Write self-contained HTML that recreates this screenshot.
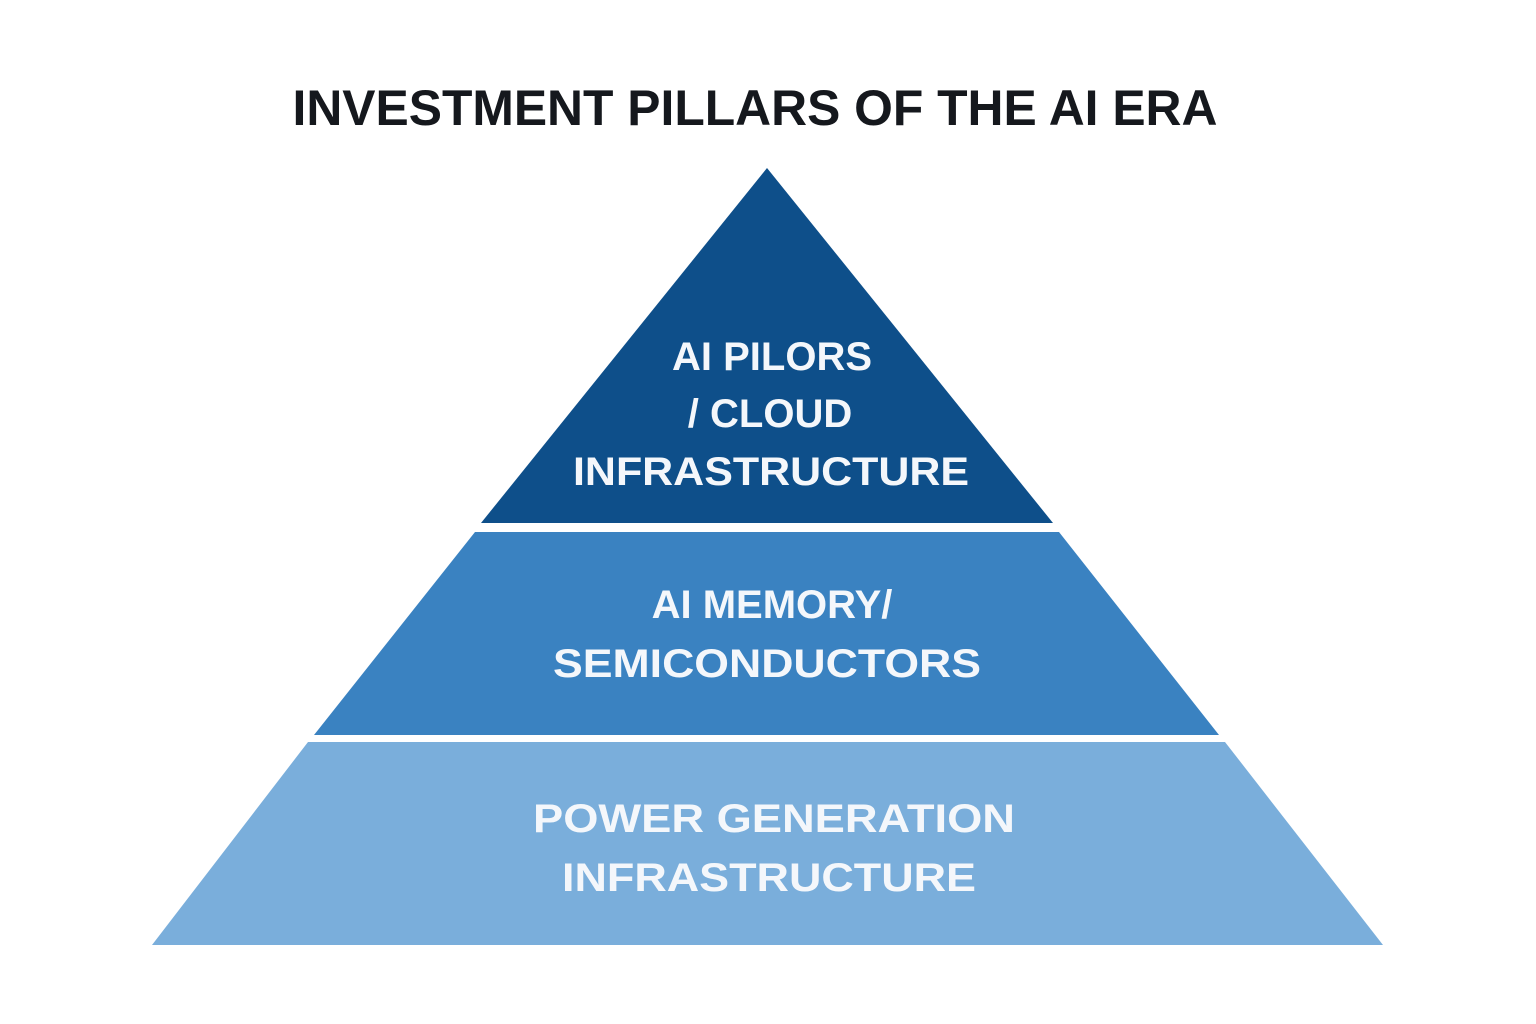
<!DOCTYPE html>
<html><head><meta charset="utf-8"><style>
html,body{margin:0;padding:0;background:#fff;}
body{width:1536px;height:1024px;overflow:hidden;position:relative;font-family:"Liberation Sans",sans-serif;}
</style></head><body>
<svg width="1536" height="1024" viewBox="0 0 1536 1024" style="position:absolute;left:0;top:0">
<text x="755" y="125" text-anchor="middle" font-family="Liberation Sans, sans-serif" font-weight="bold" font-size="50" fill="#15181d" textLength="925" lengthAdjust="spacingAndGlyphs">INVESTMENT PILLARS OF THE AI ERA</text>
<polygon points="767,168 1053,523 481,523" fill="#0e4f8a"/>
<polygon points="475,532 1059,532 1219,735 314,735" fill="#3a82c1"/>
<polygon points="308,742 1225,742 1383,945 152,945" fill="#7aaedb"/>
<g font-family="Liberation Sans, sans-serif" font-weight="bold" font-size="40" fill="#f4f7fb" text-anchor="middle">
<text x="772" y="370">AI PILORS</text>
<text x="770" y="427">/ CLOUD</text>
<text x="771" y="485" textLength="396" lengthAdjust="spacingAndGlyphs">INFRASTRUCTURE</text>
<text x="772" y="618">AI MEMORY/</text>
<text x="767" y="677" textLength="428" lengthAdjust="spacingAndGlyphs">SEMICONDUCTORS</text>
<text x="774" y="832" textLength="482" lengthAdjust="spacingAndGlyphs">POWER GENERATION</text>
<text x="769" y="891" textLength="414" lengthAdjust="spacingAndGlyphs">INFRASTRUCTURE</text>
</g>
</svg>
</body></html>
